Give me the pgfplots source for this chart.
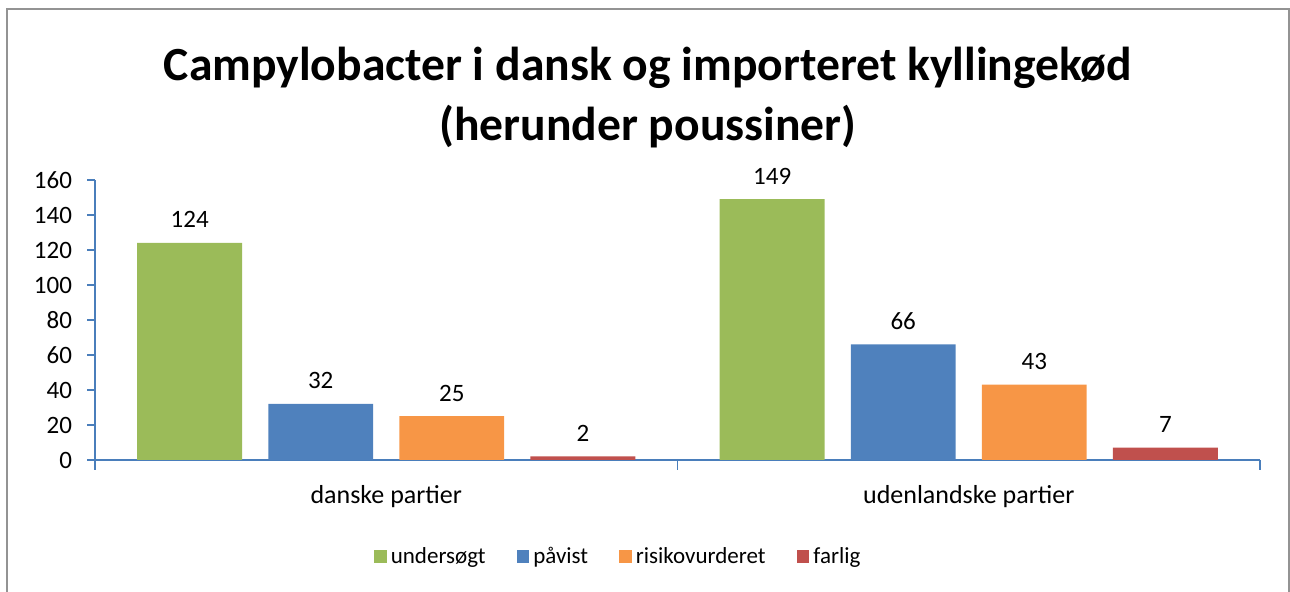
\documentclass[border=0pt]{standalone}
\usepackage{pgfplots}
\pgfplotsset{compat=1.18}
\usepackage{fontspec}
\setmainfont{Carlito}

\definecolor{xlgreen}{HTML}{9BBB59}
\definecolor{xlblue}{HTML}{4F81BD}
\definecolor{xlorange}{HTML}{F79646}
\definecolor{xlred}{HTML}{C0504D}
\definecolor{axisblue}{HTML}{4A7EBB}

\begin{document}
\begin{tikzpicture}
\useasboundingbox (-47.5pt,-66pt) rectangle (597.5pt,230pt);
\draw[gray!85, line width=1pt] (-44pt,-80pt) -- (-44pt,225.5pt) -- (597pt,225.5pt) -- (597pt,-80pt);
\begin{axis}[
    at={(0,0)}, anchor=south west,
    scale only axis,
    width=582.5pt, height=140pt,
    xmin=-0.5, xmax=1.5,
    ymin=0, ymax=160,
    ytick={0,20,...,160},
    xtick={0,1},
    xticklabels={danske partier, udenlandske partier},
    minor xtick={-0.5,0.5,1.5},
    axis x line=bottom, axis y line=left,
    axis line style={-, draw=axisblue, line width=0.6pt},
    tick align=outside,
    major x tick style={draw=none},
    major tick length=4pt,
    minor tick length=5pt,
    every tick/.style={draw=axisblue, line width=0.6pt},
    /pgf/number format/assume math mode=true,
    ticklabel style={font=\fontsize{12.5}{15}\selectfont},
    xticklabel style={font=\fontsize{13}{15}\selectfont, yshift=-5pt},
    yticklabel style={xshift=-4pt},
    ybar, bar width=0.18,
    nodes near coords,
    nodes near coords style={font=\fontsize{12.5}{15}\selectfont, yshift=4pt},
    title={Campylobacter i dansk og importeret kyllingekød\\(herunder poussiner)},
    title style={at={(0.4747,1)}, anchor=south, align=center, inner sep=0pt, yshift=10pt,
        font=\bfseries\fontsize{23.8}{30}\selectfont},
    legend columns=4,
    legend style={at={(0.45,-0.346)}, anchor=center, draw=none,
        font=\fontsize{11.5}{14}\selectfont,
        /tikz/every even column/.append style={column sep=13.5pt}},
    legend image code/.code={\draw[#1, draw=none] (0pt,-3.2pt) rectangle (6.4pt,3.2pt);},
]
\addplot[fill=xlgreen, draw=none, bar shift=-0.3375] coordinates {(0,124) (1,149)};
\addplot[fill=xlblue, draw=none, bar shift=-0.1125] coordinates {(0,32) (1,66)};
\addplot[fill=xlorange, draw=none, bar shift=0.1125] coordinates {(0,25) (1,43)};
\addplot[fill=xlred, draw=none, bar shift=0.3375] coordinates {(0,2) (1,7)};
\legend{undersøgt, påvist, risikovurderet, farlig}
\end{axis}
\end{tikzpicture}
\end{document}
